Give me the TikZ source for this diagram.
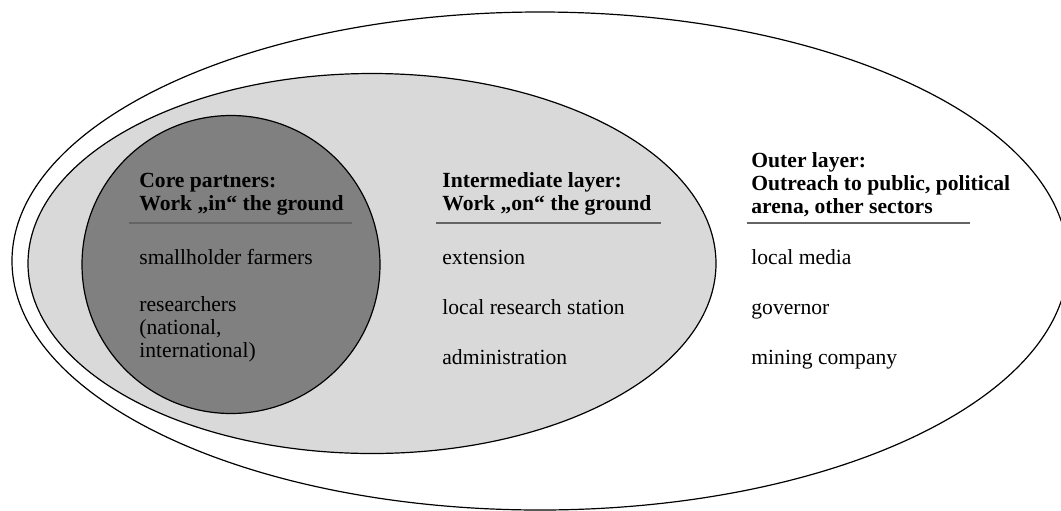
\documentclass[tikz,border=0pt]{standalone}
\usepackage{fontspec}
\setmainfont{Liberation Serif}
\usepackage{tikz}

\definecolor{coregray}{RGB}{128,128,128}
\definecolor{midgray}{RGB}{217,217,217}
\definecolor{rulegray}{RGB}{100,100,100}

\begin{document}
\begin{tikzpicture}[x=0.5pt,y=-0.5pt,
        every node/.style={font=\fontsize{10.8}{11.5}\selectfont},
        layer/.style={draw=black,line width=0.6pt},
        head/.style={anchor=base west,align=left,inner sep=0pt,font=\fontsize{10.8}{11.5}\selectfont\bfseries},
        item/.style={anchor=base west,align=left,inner sep=0pt},
        rule/.style={draw=rulegray,line width=0.75pt}]
        \useasboundingbox (0,0) rectangle (1061,510);

        \draw[layer,fill=white] (540,261) ellipse [x radius=528,y radius=249];
        \draw[layer,fill=midgray] (372,263.5) ellipse [x radius=344,y radius=190];
        \draw[layer,fill=coregray] (231,264.5) circle [radius=149];

        % multi-line nodes sit on the baseline of their last line
        \node[head] at (139,210) (corehead) {Core partners:\\Work „in“ the ground};
        \node[head] at (442,210) (midhead) {Intermediate layer:\\Work „on“ the ground};
        \node[head] at (751,213) (outhead) {Outer layer:\\Outreach to public, political\\arena, other sectors};

        \draw[rule] (129,223) -- (352,223);
        \draw[rule] (436,223) -- (661,223);
        \draw[rule] (747,223) -- (970,223);

        \node[item] at (139,264) (farmers) {smallholder farmers};
        \node[item] at (139,357) (researchers) {researchers\\(national,\\international)};

        \node[item] at (442,264) (extension) {extension};
        \node[item] at (442,314) (station) {local research station};
        \node[item] at (442,364) (admin) {administration};

        \node[item] at (751,264) (media) {local media};
        \node[item] at (751,314) (governor) {governor};
        \node[item] at (751,364) (mining) {mining company};
    \end{tikzpicture}
\end{document}
